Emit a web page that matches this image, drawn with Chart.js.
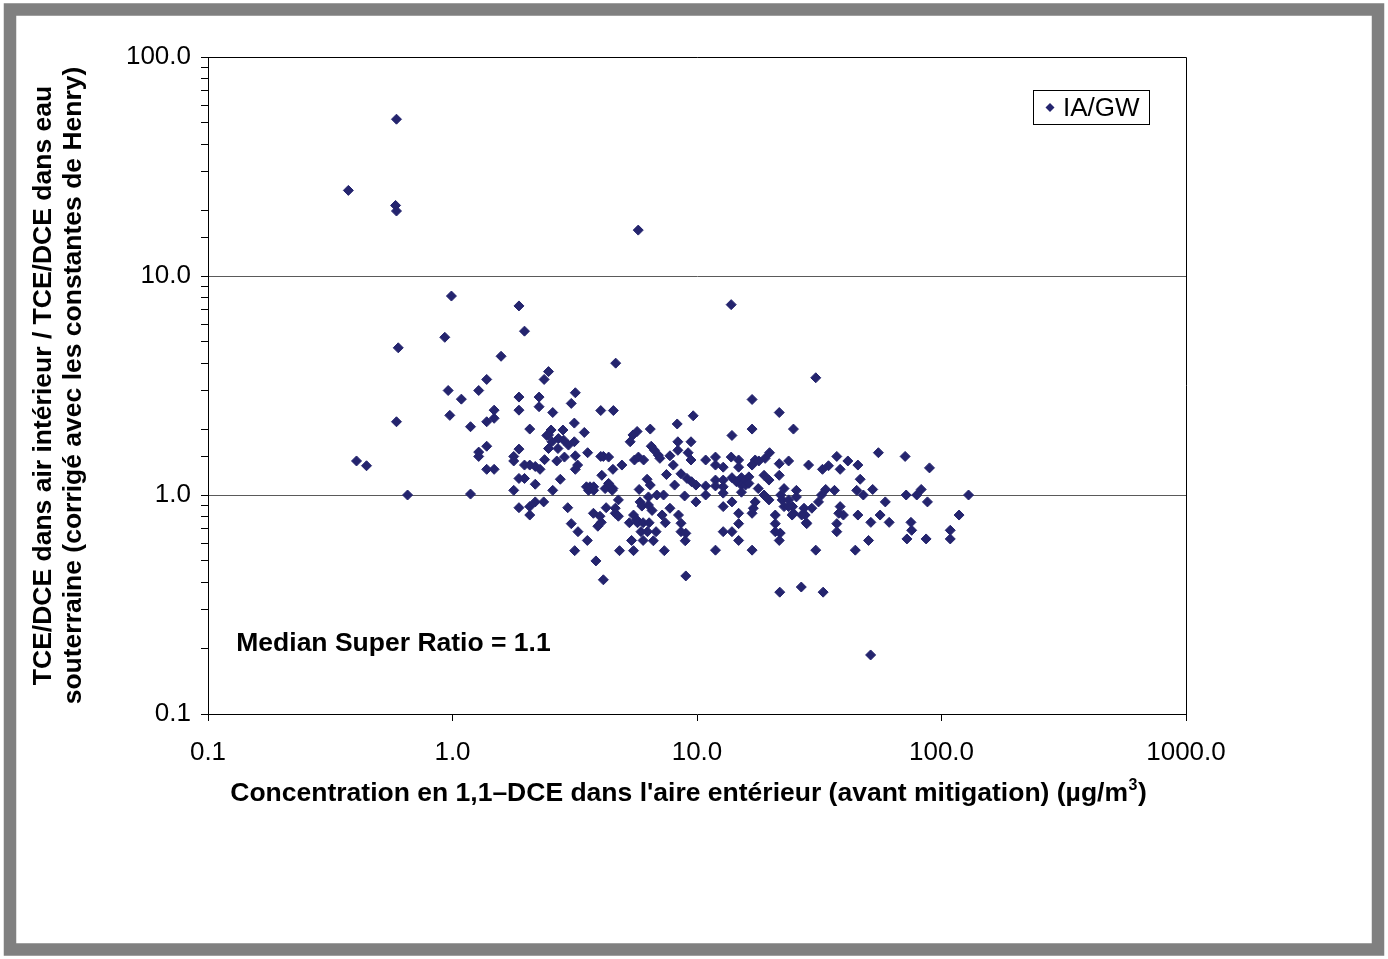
<!DOCTYPE html>
<html>
<head>
<meta charset="utf-8">
<title>Super ratio TCE/DCE</title>
<script src="https://cdn.jsdelivr.net/npm/chart.js@4/dist/chart.umd.min.js"></script>
<style>
  html, body { margin: 0; padding: 0; background: #ffffff; }
  canvas { display: block; }
</style>
</head>
<body>
<canvas id="chart" width="1388" height="959"></canvas>
<script>
// Outdoor 1,1-DCE concentration before mitigation (µg/m³)
const dceConcentration = [
  0.375, 0.59, 0.585, 0.59, 0.60, 0.59, 0.405, 0.445, 0.655, 0.99, 0.93, 0.96, 0.975,
  1.087, 1.185, 1.185, 1.28, 1.38, 1.58, 1.48, 1.48, 1.38, 1.38, 1.28, 1.28, 1.38, 1.48,
  1.87, 1.97, 1.87, 1.87, 1.87, 1.78, 1.78, 1.97, 1.87, 1.97, 1.78, 1.87,
  2.26, 2.26, 2.07, 2.43, 2.07, 2.18, 2.28, 2.18, 2.18, 2.36, 2.07, 2.07,
  2.47, 2.37, 2.57, 2.53, 2.83, 2.47, 2.71, 2.85, 2.55, 2.98, 2.47, 2.70, 2.38, 2.67, 2.87, 2.76, 2.57, 2.96,
  3.06, 3.18, 3.15, 3.46, 3.15, 3.57, 3.18, 3.25, 3.18, 3.53, 3.65, 3.78, 3.6, 3.78, 4.04, 4.55, 4.65, 4.04,
  4.14, 4.08, 4.53, 4.93, 4.21, 4.53, 3.77, 4.01, 3.93, 4.06, 4.63, 4.25, 3.06, 3.26, 3.56, 3.16, 3.86, 4.14,
  4.35, 4.35, 4.5, 4.77, 4.63, 4.77, 4.82,
  5.75, 6.44, 5.69, 5.47, 5.33, 6.5, 6.7, 6.95, 7.05, 7.75, 8.0, 8.35, 8.35, 9.45, 9.2, 9.45, 8.3, 9.65,
  5.55, 5.76, 6.05, 7.5, 8.6, 9.1, 9.5, 9.9, 8.1, 6.25, 6.44, 5.8, 8.9, 9.9, 5.85, 5.95, 6.33, 6.33, 6.55,
  6.85, 7.3, 5.5, 5.67, 5.29, 5.71, 6.02, 6.37, 7.42, 7.75, 8.4, 7.2, 6.8, 5.4, 6.02, 5.5, 7.35, 8.6, 8.6,
  9.0, 8.95, 9.0, 6.63, 5.9, 6.27,
  13.8, 16.8, 16.8, 13.9, 10.85, 11.9, 11.9, 12.8, 13.8, 14.8, 14.8, 17.3, 16.8, 10.85, 11.9, 11.9, 12.8,
  12.8, 12.8, 13.9, 14.5, 15.2, 15.2, 15.8, 15.8, 15.2, 13.9, 12.8, 16.8, 14.8, 14.8, 14.8, 12.8, 13.9,
  17.3, 17.0, 11.9, 16.8, 19.8, 19.0, 17.9, 18.8, 19.7, 16.3, 16.3, 17.8, 18.8, 19.7, 10.85,
  21.7, 24.8, 30.6, 21.7, 23.7, 28.6, 32.6, 34.5, 37.3, 38.5, 41.4, 45.5, 46.5, 21.7, 22.7, 22.0, 22.3,
  23.7, 25.5, 25.5, 24.6, 24.5, 27.4, 27.7, 28.1, 29.5, 31.4, 32.3, 33.6, 36.5, 45.0, 47.9, 38.5, 38.0,
  39.7, 37.3, 37.3, 45.5, 44.4, 30.6, 20.9, 20.9, 20.9, 21.9, 21.7, 22.7, 23.7, 24.8, 26.8, 21.8, 26.7,
  32.8, 28.0,
  52.3, 55.2, 58.9, 56.1, 61.1, 50.3, 51.4, 71, 89.3, 71.7, 79.2, 82.6, 87.6, 129, 118, 108.6, 108.6,
  86.5, 75, 75.5, 72.2, 51.3
];

// Indoor-air / groundwater TCE/DCE ratio (Henry's-law corrected)
const superRatio = [
  24.6, 52, 21.0, 19.8, 4.7, 2.16, 1.43, 1.36, 1.0, 8.1, 5.25, 3.0, 2.31,
  2.74, 2.05, 1.01, 3.0, 3.37, 4.3, 2.44, 2.24, 2.16, 1.67, 1.57, 1.50, 1.31, 1.31,
  7.3, 5.6, 2.8, 2.44, 1.62, 1.50, 1.43, 1.37, 1.19, 1.19, 1.05, 0.875,
  2.8, 2.53, 2.0, 1.87, 1.37, 1.35, 1.31, 1.12, 0.93, 0.93, 0.885, 0.81,
  3.66, 3.37, 2.38, 1.98, 1.98, 1.88, 1.81, 1.78, 1.75, 1.69, 1.63, 1.63, 1.45, 1.43, 1.49, 1.18, 1.05, 0.875,
  2.62, 2.93, 2.13, 1.93, 1.75, 1.56, 1.51, 1.37, 1.31, 1.09, 1.09, 1.09, 1.05, 1.05, 2.43, 2.43, 4.0, 1.50,
  1.50, 1.23, 1.31, 1.37, 1.07, 1.07, 0.825, 0.80, 0.72, 0.75, 0.825, 0.875, 0.74, 0.68, 0.62, 0.557, 0.50, 0.41,
  1.49, 1.13, 1.05, 0.95, 0.87, 0.80, 0.557,
  16.2, 2.0, 1.95, 1.88, 1.75, 1.67, 1.6, 1.52, 1.47, 1.51, 1.37, 1.75, 1.60, 1.75, 1.56, 1.445, 2.11, 2.30,
  1.445, 1.49, 1.445, 1.24, 1.25, 1.19, 1.15, 1.11, 1.11, 1.18, 1.11, 1.06, 0.99, 0.93, 0.93, 0.89, 0.98, 0.90, 0.85,
  1.0, 1.0, 0.81, 0.77, 0.747, 0.747, 0.747, 0.747, 0.747, 0.87, 0.81, 0.81, 0.68, 0.62, 0.62, 0.557, 0.557, 0.743,
  0.68, 0.668, 0.618, 0.427, 0.618, 0.68, 0.68,
  7.4, 2.73, 2.0, 1.87, 1.445, 1.49, 1.37, 1.34, 1.49, 1.445, 1.34, 1.445, 1.37, 1.10, 1.17, 1.10, 1.17,
  1.09, 1.02, 1.20, 1.15, 1.20, 1.11, 1.17, 1.11, 1.03, 0.93, 0.885, 0.825, 0.825, 0.74, 0.62, 0.68, 0.68,
  0.93, 0.87, 0.56, 0.56, 1.56, 1.47, 1.43, 1.23, 1.17, 1.21, 1.13, 1.07, 1.0, 0.95, 1.0,
  2.38, 2.0, 3.43, 1.39, 1.43, 1.37, 1.31, 1.36, 1.50, 1.31, 1.43, 1.37, 1.18, 1.23, 1.07, 1.0, 0.95,
  0.95, 1.05, 0.98, 0.885, 0.81, 0.87, 0.81, 0.74, 0.87, 0.93, 1.0, 1.06, 1.05, 1.05, 1.0, 0.885, 0.825,
  0.81, 0.74, 0.68, 0.81, 0.56, 0.56, 0.81, 0.74, 0.68, 0.67, 0.62, 0.885, 0.885, 0.825, 0.81, 0.36, 0.38,
  0.36, 0.747,
  1.06, 1.56, 0.93, 0.81, 0.75, 0.62, 0.75, 1.50, 1.33, 1.0, 1.0, 1.06, 0.93, 1.0, 0.81, 0.69, 0.63,
  0.63, 0.75, 0.69, 0.63, 0.186
];

const seriesLabel = 'IA/GW';
const xTickValues = [0.1, 1, 10, 100, 1000];
const yTickValues = [0.1, 1, 10, 100];
const yGridValues = [1, 10];
const medianText = 'Median Super Ratio = 1.1';
const medianTextPos = { x: 0.1305, y: 0.209 };

// x-axis title: main text, superscript, closing bracket
const xTitleParts = ['Concentration en 1,1\u2013DCE dans l\'aire ent\u00e9rieur (avant mitigation) (\u00b5g/m', '3', ')'];
const yTitle = [
  'TCE/DCE dans air int\u00e9rieur / TCE/DCE dans eau',
  'souterraine (corrig\u00e9 avec les constantes de Henry)'
];

const FONT = '"Liberation Sans", Arial, Helvetica, sans-serif';
const MARK = '#24246e';

const points = dceConcentration.map((x, i) => ({ x: x, y: superRatio[i] }));

function isListed(value, list) {
  return list.some(v => Math.abs(Math.log10(v) - Math.log10(value)) < 1e-6);
}

// page frame, plot border, axis title, legend box and the median note
const decorations = {
  id: 'decorations',
  beforeDraw(chart) {
    const ctx = chart.ctx;
    ctx.save();
    ctx.fillStyle = '#ffffff';
    ctx.fillRect(0, 0, chart.width, chart.height);
    ctx.strokeStyle = '#808080';
    ctx.lineWidth = 12.5;
    ctx.strokeRect(10, 9.5, 1368, 940);
    ctx.restore();
  },
  beforeDatasetsDraw(chart) {
    const { ctx, chartArea: a } = chart;
    ctx.save();
    ctx.strokeStyle = '#000000';
    ctx.lineWidth = 1;
    ctx.beginPath();
    ctx.moveTo(a.left, a.top + 0.5);
    ctx.lineTo(a.right + 0.5, a.top + 0.5);
    ctx.lineTo(a.right + 0.5, a.bottom);
    ctx.stroke();
    ctx.restore();
  },
  afterDatasetsDraw(chart) {
    const { ctx, scales, chartArea: a } = chart;
    ctx.save();
    ctx.fillStyle = '#000000';

    // x-axis title with a raised exponent
    const mainFont = 'bold 26.5px ' + FONT;
    const supFont = 'bold 16px ' + FONT;
    ctx.textBaseline = 'alphabetic';
    ctx.textAlign = 'left';
    ctx.font = mainFont;
    const w1 = ctx.measureText(xTitleParts[0]).width;
    const w3 = ctx.measureText(xTitleParts[2]).width;
    ctx.font = supFont;
    const w2 = ctx.measureText(xTitleParts[1]).width + 1;
    const total = w1 + w2 + w3;
    const centre = (a.left + a.right) / 2 - 8.5;
    const base = a.bottom + 86.5;
    let tx = centre - total / 2;
    ctx.font = mainFont;
    ctx.fillText(xTitleParts[0], tx, base);
    tx += w1;
    ctx.font = supFont;
    ctx.fillText(xTitleParts[1], tx + 0.5, base - 11);
    tx += w2;
    ctx.font = mainFont;
    ctx.fillText(xTitleParts[2], tx, base);

    // median note
    ctx.font = 'bold 26.5px ' + FONT;
    ctx.textBaseline = 'middle';
    ctx.fillText(medianText, scales.x.getPixelForValue(medianTextPos.x), scales.y.getPixelForValue(medianTextPos.y));

    // legend
    const lx = 1033.5, ly = 90.5, lw = 116, lh = 34;
    ctx.fillStyle = '#ffffff';
    ctx.fillRect(lx, ly, lw, lh);
    ctx.strokeStyle = '#000000';
    ctx.lineWidth = 1;
    ctx.strokeRect(lx, ly, lw, lh);
    const cx = 1050, cy = ly + lh / 2;
    ctx.fillStyle = MARK;
    ctx.beginPath();
    ctx.moveTo(cx - 4.5, cy);
    ctx.lineTo(cx, cy - 4.5);
    ctx.lineTo(cx + 4.5, cy);
    ctx.lineTo(cx, cy + 4.5);
    ctx.closePath();
    ctx.fill();
    ctx.fillStyle = '#000000';
    ctx.font = '26px ' + FONT;
    ctx.textBaseline = 'middle';
    ctx.fillText(chart.data.datasets[0].label, 1063, cy + 1.5);
    ctx.restore();
  }
};

new Chart(document.getElementById('chart'), {
  type: 'scatter',
  data: {
    datasets: [{
      label: seriesLabel,
      data: points,
      pointStyle: 'rectRot',
      pointRadius: 5,
      pointHoverRadius: 5,
      pointBackgroundColor: MARK,
      pointBorderColor: MARK,
      pointBorderWidth: 1
    }]
  },
  options: {
    responsive: false,
    devicePixelRatio: 1,
    animation: false,
    events: [],
    layout: { padding: { left: 0, top: 57, right: 202, bottom: 115 } },
    plugins: {
      legend: { display: false },
      tooltip: { enabled: false }
    },
    scales: {
      x: {
        type: 'logarithmic',
        position: 'bottom',
        min: 0.1,
        max: 1000,
        afterFit(scale) { scale.height = 130; },
        border: { display: true, color: '#000000', width: 1 },
        grid: {
          drawOnChartArea: false,
          drawTicks: true,
          tickLength: 7,
          tickWidth: 1,
          tickColor: (c) => (c.tick && isListed(c.tick.value, xTickValues)) ? '#000000' : 'rgba(0,0,0,0)'
        },
        ticks: {
          autoSkip: false,
          maxRotation: 0,
          minRotation: 0,
          padding: 16,
          color: '#000000',
          font: { family: FONT, size: 26 },
          callback: (v) => isListed(v, xTickValues) ? Number(v).toFixed(1) : ''
        },
        title: { display: false }
      },
      y: {
        type: 'logarithmic',
        position: 'left',
        min: 0.1,
        max: 100,
        afterFit(scale) { scale.width = 208; },
        border: { display: true, color: '#000000', width: 1 },
        grid: {
          drawOnChartArea: true,
          drawTicks: true,
          tickLength: 7,
          tickWidth: 1,
          lineWidth: 1,
          color: (c) => (c.tick && isListed(c.tick.value, yGridValues)) ? '#5a5a5a' : 'rgba(0,0,0,0)',
          tickColor: '#000000'
        },
        ticks: {
          autoSkip: false,
          padding: 10,
          color: '#000000',
          font: { family: FONT, size: 26 },
          callback: (v) => isListed(v, yTickValues) ? Number(v).toFixed(1) : ''
        },
        title: {
          display: true,
          text: yTitle,
          color: '#000000',
          font: { family: FONT, size: 26.5, weight: 'bold', lineHeight: 1.13 },
          padding: { top: 29, bottom: 0 }
        }
      }
    }
  },
  plugins: [decorations]
});
</script>
</body>
</html>
